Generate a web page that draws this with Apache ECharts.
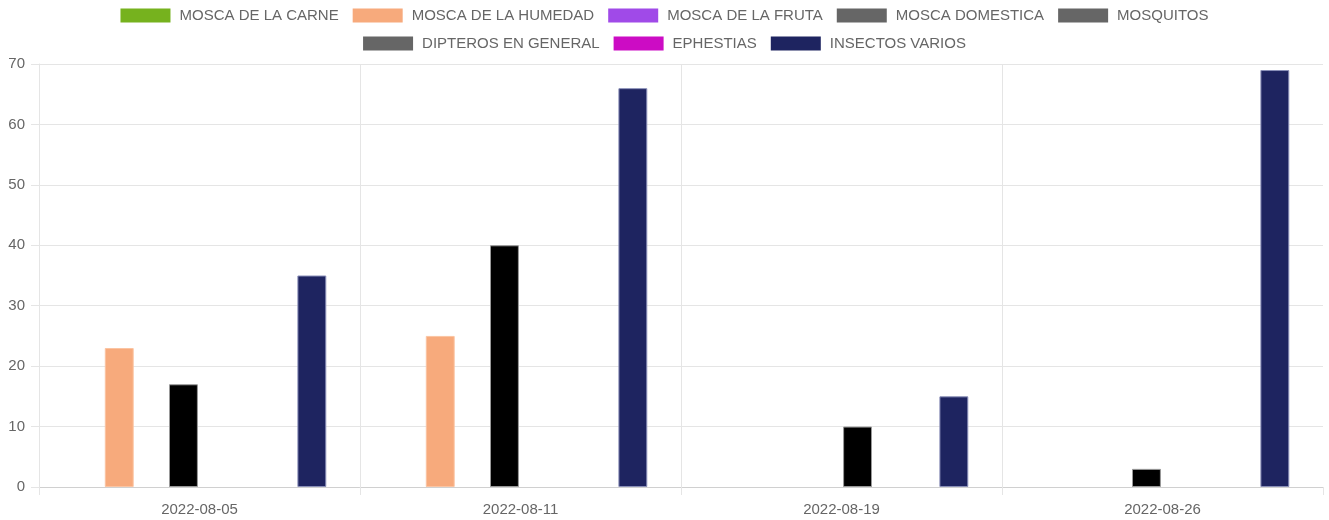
<!DOCTYPE html>
<html>
<head>
<meta charset="utf-8">
<script src="https://cdn.jsdelivr.net/npm/echarts@6/dist/echarts.min.js"></script>
<style>html,body{margin:0;padding:0;background:#fff;}#c{width:1329px;height:520px;}</style>
</head>
<body>
<div id="c"></div>
<script>
const categories = ['2022-08-05', '2022-08-11', '2022-08-19', '2022-08-26'];
const seriesNames = ['MOSCA DE LA CARNE', 'MOSCA DE LA HUMEDAD', 'MOSCA DE LA FRUTA', 'MOSCA DOMESTICA', 'MOSQUITOS', 'DIPTEROS EN GENERAL', 'EPHESTIAS', 'INSECTOS VARIOS'];
const moscaCarne = [0, 0, 0, 0];
const moscaHumedad = [23, 25, 0, 0];
const moscaFruta = [0, 0, 0, 0];
const moscaDomestica = [17, 40, 0, 3];
const mosquitos = [0, 0, 10, 0];
const dipteros = [0, 0, 0, 0];
const ephestias = [0, 0, 0, 0];
const insectosVarios = [35, 66, 15, 69];
const yTicks = [0, 10, 20, 30, 40, 50, 60, 70];

const seriesData = [moscaCarne, moscaHumedad, moscaFruta, moscaDomestica, mosquitos, dipteros, ephestias, insectosVarios];
const barColors = ['#76b21e', '#f7aa7c', '#a04ae8', '#000000', '#000000', '#000000', '#cc0cc4', '#1e2460'];
const borderColors = ['#9bd05a', '#fbc4a2', '#c08af0', '#999999', '#999999', '#999999', '#e060da', '#8a8fb8'];
const legendColors = ['#76b21e', '#f7aa7c', '#a04ae8', '#666666', '#666666', '#666666', '#cc0cc4', '#1e2460'];

const gridColor = '#e5e5e5';
const textColor = '#666';
const font = '"Liberation Sans", Arial, sans-serif';

function legendData(idx) {
  return idx.map(i => ({ name: seriesNames[i], itemStyle: { color: legendColors[i], borderWidth: 0 } }));
}
const legendCommon = {
  left: 'center',
  itemWidth: 50,
  itemHeight: 14,
  itemGap: 14,
  icon: 'rect',
  textStyle: { color: textColor, fontSize: 15, fontFamily: font, padding: [0, 0, 0, 4] }
};

const chart = echarts.init(document.getElementById('c'), null, { renderer: 'canvas' });
chart.setOption({
  animation: false,
  backgroundColor: '#fff',
  legend: [
    Object.assign({}, legendCommon, { top: 3, data: legendData([0, 1, 2, 3, 4]) }),
    Object.assign({}, legendCommon, { top: 31, data: legendData([5, 6, 7]) })
  ],
  grid: { left: 39, right: 6, top: 64, bottom: 33, containLabel: false },
  xAxis: {
    type: 'category',
    data: categories,
    boundaryGap: true,
    axisLine: { show: true, lineStyle: { color: '#d0d0d0', width: 1 } },
    axisTick: { show: true, length: 8, lineStyle: { color: gridColor } },
    axisLabel: { color: textColor, fontSize: 15, fontFamily: font, margin: 15 },
    splitLine: { show: true, lineStyle: { color: [gridColor, gridColor, gridColor, gridColor, 'rgba(0,0,0,0)'] } }
  },
  yAxis: {
    type: 'value',
    min: yTicks[0],
    max: yTicks[yTicks.length - 1],
    interval: 10,
    axisLine: { show: true, lineStyle: { color: gridColor } },
    axisTick: { show: true, length: 8, lineStyle: { color: gridColor } },
    axisLabel: { color: textColor, fontSize: 15, fontFamily: font, margin: 14 },
    splitLine: { show: true, lineStyle: { color: gridColor } }
  },
  series: seriesNames.map((name, i) => ({
    name: name,
    type: 'bar',
    data: seriesData[i].map(v => v === 0 ? { value: v, itemStyle: { borderWidth: 0 } } : v),
    barCategoryGap: '21%',
    barGap: '11.1%',
    itemStyle: { color: barColors[i], borderColor: borderColors[i], borderWidth: 1 }
  }))
});
</script>
</body>
</html>
